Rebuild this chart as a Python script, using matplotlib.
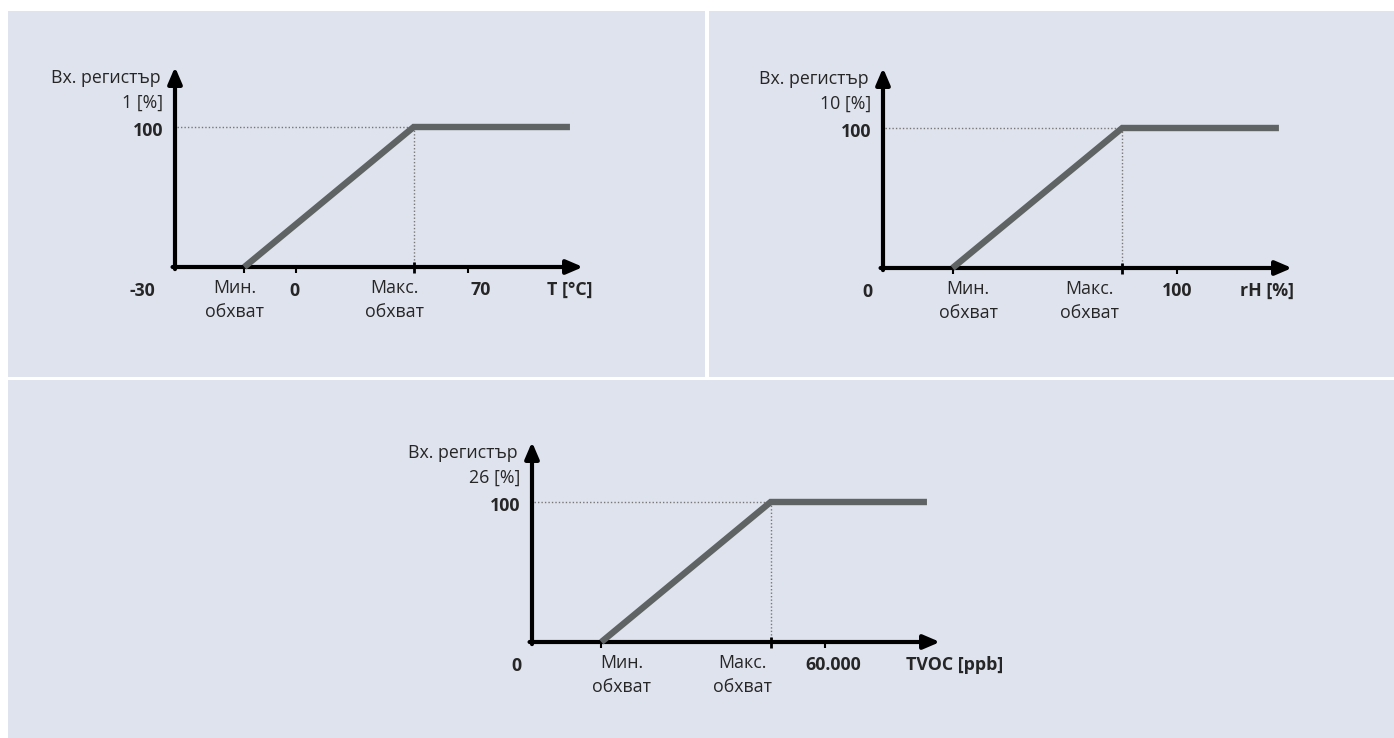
import matplotlib
matplotlib.use("Agg")
import matplotlib.pyplot as plt
from matplotlib.patches import Rectangle

plt.rcParams["font.family"] = ["Open Sans", "DejaVu Sans"]

# ── Data ──────────────────────────────────────────────────────────────────────
# Input register value [%] at the curve break points
reg_values = [0, 100, 100]
# Schematic positions on each sensor axis (0 = origin, 100 = arrow tip)
x_min_range = 17.0
x_max_range = 58.5
x_curve = [x_min_range, x_max_range, 96.8]

register_ids = ["1", "10", "26"]
origin_labels = ["-30", "0", "0"]
zero_labels = ["0", None, None]          # only the temperature axis shows 0
zero_pos = 29.7
high_labels = ["70", "100", "60.000"]
high_pos = 71.8
unit_labels = ["T [°C]", "rH [%]", "TVOC [ppb]"]

# ── Layout (pixels of the 1394x738 canvas) ────────────────────────────────────
W, H = 1394, 738
BG = "#dfe3ed"
TXT = "#262626"
LINE = "#5f6363"

# origin x, x-axis y, axis length in px for each panel
panel_boxes = [(175, 267, 408), (883, 268, 409), (532, 642, 408)]
# label x centres (data units) per panel: min-label, max-label, high-label, unit
label_x = [
    (14.7, 53.9, 75.0, 96.8),
    (20.8, 50.4, 71.9, 94.0),
    (22.0, 51.7, 73.8, 103.5),
]
origin_x = [-8.1, -3.9, -3.7]

YTOP = 100 * 200 / 140       # arrow tip sits 200 px above the origin, 100 % at 140 px

fig = plt.figure(figsize=(W / 100, H / 100), dpi=100, facecolor="white")

# panel backgrounds separated by thin white gaps
for (x0, y0, x1, y1) in [(8, 11, 705, 377), (709, 11, W, 377), (8, 380, W, H)]:
    fig.add_artist(Rectangle((x0 / W, 1 - y1 / H), (x1 - x0) / W, (y1 - y0) / H,
                             transform=fig.transFigure, facecolor=BG,
                             edgecolor="none", zorder=0))


def draw_panel(ax, i):
    ax.set_xlim(0, 100)
    ax.set_ylim(0, YTOP)
    ax.axis("off")
    ax.patch.set_alpha(0)

    # axes with arrow heads
    arrow = dict(arrowstyle="-|>,head_length=0.7,head_width=0.3", lw=3,
                 color="black", mutation_scale=14, shrinkA=0, shrinkB=0)
    ax.annotate("", xy=(100, 0), xytext=(-0.6, 0), arrowprops=arrow,
                annotation_clip=False)
    ax.annotate("", xy=(0, YTOP), xytext=(0, -1.5), arrowprops=arrow,
                annotation_clip=False)

    # guides to the 100 % point
    ax.plot([0.6, x_max_range], [100, 100], color="#777777", lw=1,
            ls=(0, (1, 1.5)), clip_on=False)
    ax.plot([x_max_range, x_max_range], [0, 100], color="#777777", lw=1,
            ls=(0, (1, 1.5)), clip_on=False)

    # characteristic
    ax.plot(x_curve, reg_values, color=LINE, lw=4.6, solid_capstyle="butt",
            solid_joinstyle="miter", clip_on=False, zorder=3)

    # ticks
    tick = 6 * YTOP / 200
    small = [x_min_range, high_pos] + ([zero_pos] if zero_labels[i] else [])
    ax.vlines(small, -tick, 0, color="black", lw=1.5, clip_on=False)
    ax.vlines([x_max_range], -tick, tick * 0.8, color="black", lw=2,
              clip_on=False)

    off = dict(textcoords="offset pixels", annotation_clip=False, color=TXT)
    fs = 12.8
    # y-axis labels
    ax.annotate("Вх. регистър", xy=(0, 0), xytext=(-14, 189), ha="right",
                va="center", fontsize=fs, **off)
    ax.annotate(f"{register_ids[i]} [%]", xy=(0, 0), xytext=(-12, 164),
                ha="right", va="center", fontsize=fs, **off)
    ax.annotate("100", xy=(0, 100), xytext=(-12, -4), ha="right", va="center",
                fontsize=fs, fontweight="bold", **off)

    # x-axis labels
    mn, mx, hi, un = label_x[i]
    ax.annotate(origin_labels[i], xy=(origin_x[i], 0), xytext=(0, -24),
                ha="center", va="center", fontsize=fs, fontweight="bold", **off)
    if zero_labels[i]:
        ax.annotate(zero_labels[i], xy=(29.2, 0), xytext=(0, -24), ha="center",
                    va="center", fontsize=fs, fontweight="bold", **off)
    for xc, word in [(mn, "Мин."), (mx, "Макс.")]:
        ax.annotate(word, xy=(xc, 0), xytext=(0, -21), ha="center",
                    va="center", fontsize=fs, **off)
        ax.annotate("обхват", xy=(xc, 0), xytext=(0, -45), ha="center",
                    va="center", fontsize=fs, **off)
    ax.annotate(high_labels[i], xy=(hi, 0), xytext=(0, -23), ha="center",
                va="center", fontsize=fs, fontweight="bold", **off)
    ax.annotate(unit_labels[i], xy=(un, 0), xytext=(0, -23), ha="center",
                va="center", fontsize=fs, fontweight="bold", **off)


for i, (x0, y0, length) in enumerate(panel_boxes):
    ax = fig.add_axes([x0 / W, 1 - y0 / H, length / W, 200 / H])
    draw_panel(ax, i)

fig.savefig("out.png", dpi=100, facecolor="white")
